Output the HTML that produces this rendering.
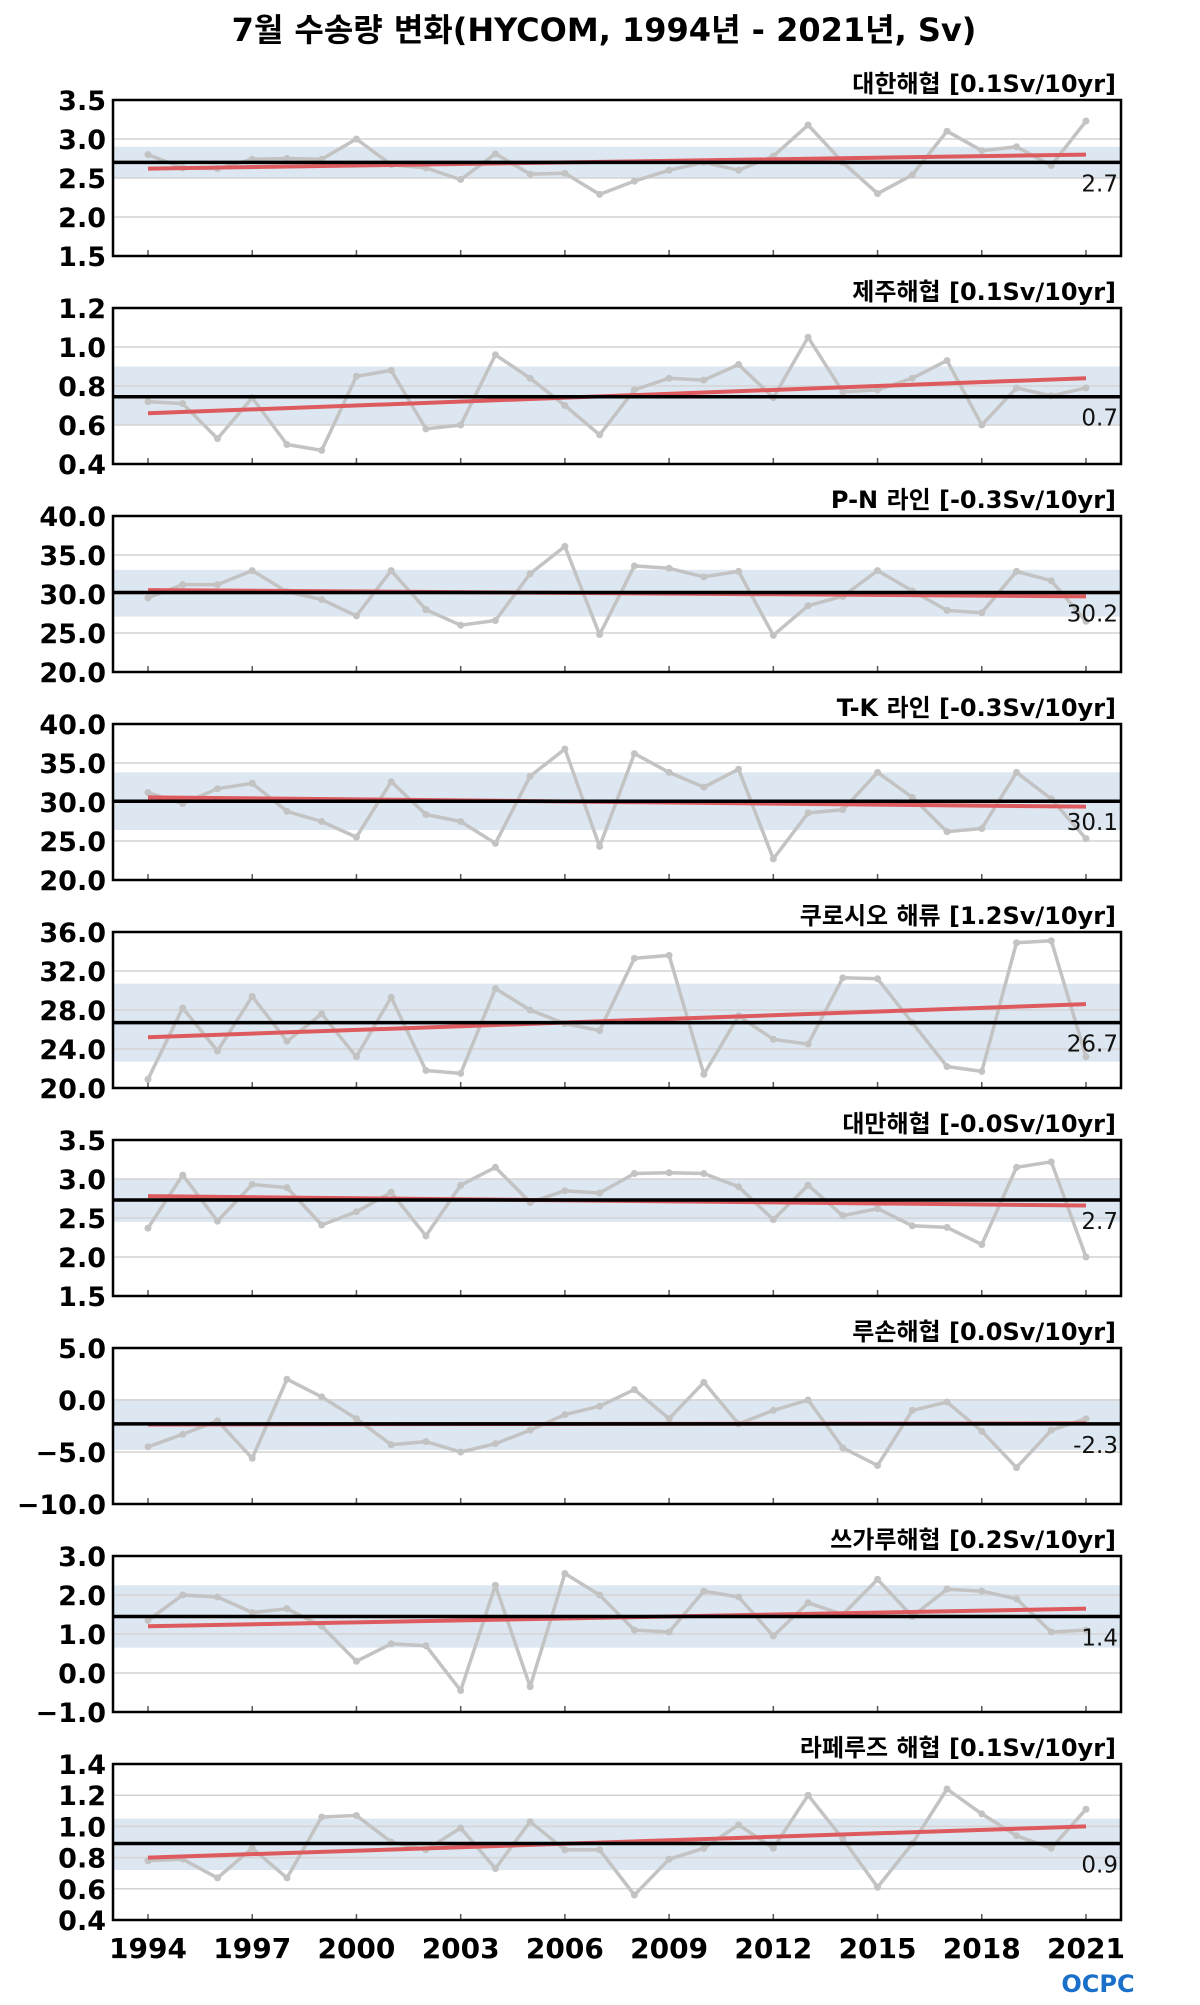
<!DOCTYPE html>
<html><head><meta charset="utf-8">
<style>
html,body{margin:0;padding:0;background:#fff;}
svg text{font-family:"DejaVu Sans","Liberation Sans","Noto Sans CJK KR",sans-serif;}
</style></head>
<body>
<svg id="chart" width="1200" height="2000" viewBox="0 0 1200 2000" xmlns="http://www.w3.org/2000/svg">
<text x="604" y="41" text-anchor="middle" font-size="32" font-weight="bold" fill="#000">7월 수송량 변화(HYCOM, 1994년 - 2021년, Sv)</text>
<text x="1098" y="1992" text-anchor="middle" font-size="24" font-weight="bold" fill="#1a6fc8">OCPC</text>
</svg>
<script>
const years = [1994,1995,1996,1997,1998,1999,2000,2001,2002,2003,2004,2005,2006,2007,2008,2009,2010,2011,2012,2013,2014,2015,2016,2017,2018,2019,2020,2021];
const xTickYears = [1994,1997,2000,2003,2006,2009,2012,2015,2018,2021];
const panelTitles = ["대한해협 [0.1Sv/10yr]","제주해협 [0.1Sv/10yr]","P-N 라인 [-0.3Sv/10yr]","T-K 라인 [-0.3Sv/10yr]","쿠로시오 해류 [1.2Sv/10yr]","대만해협 [-0.0Sv/10yr]","루손해협 [0.0Sv/10yr]","쓰가루해협 [0.2Sv/10yr]","라페루즈 해협 [0.1Sv/10yr]"];
const yTicks = [
 ["1.5","2.0","2.5","3.0","3.5"],
 ["0.4","0.6","0.8","1.0","1.2"],
 ["20.0","25.0","30.0","35.0","40.0"],
 ["20.0","25.0","30.0","35.0","40.0"],
 ["20.0","24.0","28.0","32.0","36.0"],
 ["1.5","2.0","2.5","3.0","3.5"],
 ["−10.0","−5.0","0.0","5.0"],
 ["−1.0","0.0","1.0","2.0","3.0"],
 ["0.4","0.6","0.8","1.0","1.2","1.4"]];
const yTickValues = [[1.5,2,2.5,3,3.5],[0.4,0.6,0.8,1.0,1.2],[20,25,30,35,40],[20,25,30,35,40],[20,24,28,32,36],[1.5,2,2.5,3,3.5],[-10,-5,0,5],[-1,0,1,2,3],[0.4,0.6,0.8,1.0,1.2,1.4]];
const series0 = [2.80,2.63,2.62,2.74,2.75,2.74,3.00,2.67,2.63,2.48,2.81,2.55,2.56,2.29,2.46,2.60,2.70,2.60,2.78,3.18,2.70,2.30,2.54,3.10,2.85,2.90,2.66,3.23];
const series1 = [0.72,0.71,0.53,0.74,0.50,0.47,0.85,0.88,0.58,0.60,0.96,0.84,0.70,0.55,0.78,0.84,0.83,0.91,0.74,1.05,0.77,0.78,0.84,0.93,0.60,0.79,0.75,0.79];
const series2 = [29.5,31.2,31.2,33.0,30.3,29.3,27.2,33.0,28.0,26.0,26.6,32.6,36.1,24.8,33.6,33.3,32.2,32.9,24.7,28.5,29.7,33.0,30.4,27.9,27.6,32.9,31.7,26.5];
const series3 = [31.2,29.8,31.7,32.4,28.8,27.5,25.5,32.6,28.4,27.5,24.7,33.3,36.8,24.3,36.2,33.8,31.9,34.2,22.7,28.6,29.0,33.8,30.6,26.2,26.6,33.8,30.4,25.3];
const series4 = [20.9,28.2,23.8,29.4,24.8,27.6,23.2,29.3,21.8,21.5,30.2,28.0,26.6,25.9,33.3,33.6,21.4,27.4,25.0,24.5,31.3,31.2,26.7,22.2,21.7,34.9,35.1,23.2];
const series5 = [2.37,3.05,2.46,2.93,2.89,2.41,2.58,2.83,2.27,2.92,3.15,2.70,2.85,2.82,3.07,3.08,3.07,2.90,2.48,2.92,2.53,2.62,2.40,2.38,2.16,3.15,3.22,2.00];
const series6 = [-4.5,-3.3,-2.0,-5.6,2.0,0.3,-1.8,-4.3,-4.0,-5.0,-4.2,-2.9,-1.4,-0.6,1.0,-1.8,1.7,-2.3,-1.0,0.0,-4.6,-6.3,-1.0,-0.2,-3.0,-6.5,-2.9,-1.8];
const series7 = [1.35,2.0,1.95,1.55,1.65,1.2,0.3,0.75,0.7,-0.45,2.25,-0.35,2.55,2.0,1.1,1.05,2.1,1.95,0.95,1.8,1.5,2.4,1.45,2.15,2.1,1.9,1.05,1.1];
const series8 = [0.78,0.79,0.67,0.86,0.67,1.06,1.07,0.90,0.85,0.99,0.73,1.03,0.85,0.85,0.56,0.79,0.86,1.01,0.86,1.20,0.92,0.61,0.89,1.24,1.08,0.94,0.86,1.11];
const allSeries = [series0,series1,series2,series3,series4,series5,series6,series7,series8];
const means = [2.7,0.745,30.2,30.1,26.7,2.73,-2.3,1.45,0.89];
const meanLabels = ["2.7","0.7","30.2","30.1","26.7","2.7","-2.3","1.4","0.9"];
const bandLow = [2.5,0.6,27.1,26.4,22.7,2.45,-4.8,0.65,0.72];
const bandHigh = [2.9,0.9,33.1,33.8,30.7,3.0,0.1,2.25,1.05];
const trendStart = [2.62,0.66,30.5,30.6,25.2,2.78,-2.35,1.2,0.8];
const trendEnd = [2.80,0.84,29.7,29.4,28.6,2.66,-2.25,1.65,1.0];

const NS="http://www.w3.org/2000/svg";
const svg=document.getElementById('chart');
const L=113,R=1121,H=156;
function mk(tag,attrs,parent){const e=document.createElementNS(NS,tag);for(const k in attrs)e.setAttribute(k,attrs[k]);(parent||svg).appendChild(e);return e;}
function xS(yr){return 148+(yr-1994)*(1086-148)/27;}

for(let p=0;p<9;p++){
  const top=100+208*p, bot=top+H;
  const tv=yTickValues[p];
  const ymin=tv[0], ymax=tv[tv.length-1];
  const yS=v=>bot-(v-ymin)/(ymax-ymin)*H;
  const g=mk('g',{});
  
  
  const band=mk('rect',{x:L,y:yS(bandHigh[p]),width:R-L,height:yS(bandLow[p])-yS(bandHigh[p]),fill:'#dde7f1'},g);
  
  
  tv.forEach((v,i)=>{
    if(i>0&&i<tv.length-1){const gl=mk('line',{x1:L,x2:R,y1:yS(v),y2:yS(v),stroke:'#d4d4d4','stroke-width':1.5},g);
      
      }
    const t=mk('text',{x:106,y:yS(v)+10,'text-anchor':'end','font-size':27,'font-weight':'bold',fill:'#000'},g);
    t.textContent=yTicks[p][i];
    
    
  });
  xTickYears.forEach(yr=>{const tk=mk('line',{x1:xS(yr),x2:xS(yr),y1:bot,y2:bot-6,stroke:'#555','stroke-width':1.5},g);
    
    });
  const d=allSeries[p].map((v,i)=>(i?'L':'M')+xS(years[i]).toFixed(1)+','+yS(v).toFixed(1)).join(' ');
  const pl=mk('path',{d:d,fill:'none',stroke:'#c3c3c3','stroke-width':3.5,'stroke-linejoin':'round'},g);
  
  
  allSeries[p].forEach((v,i)=>{const c=mk('circle',{cx:xS(years[i]),cy:yS(v),r:3.5,fill:'#c3c3c3'},g);
    
    });
  const tr=mk('line',{x1:xS(1994),x2:xS(2021),y1:yS(trendStart[p]),y2:yS(trendEnd[p]),stroke:'#dd5a5f','stroke-width':4},g);
  
  
  const ml=mk('line',{x1:L,x2:R,y1:yS(means[p]),y2:yS(means[p]),stroke:'#000','stroke-width':3.5},g);
  
  
  const mt=mk('text',{x:R-3,y:yS(means[p])+29,'text-anchor':'end','font-size':23,fill:'#111'},g);
  mt.textContent=meanLabels[p];
  
  
  const fr=mk('rect',{x:L,y:top,width:R-L,height:H,fill:'none',stroke:'#000','stroke-width':2.5},g);
  
  
  const tt=mk('text',{x:R-5,y:top-8,'text-anchor':'end','font-size':24,'font-weight':'bold',fill:'#000'},g);
  tt.textContent=panelTitles[p];
  
  
}
xTickYears.forEach(yr=>{
  const t=mk('text',{x:xS(yr),y:1958,'text-anchor':'middle','font-size':28,'font-weight':'bold',fill:'#000'});
  t.textContent=yr;
  
  
});
</script>
</body></html>
